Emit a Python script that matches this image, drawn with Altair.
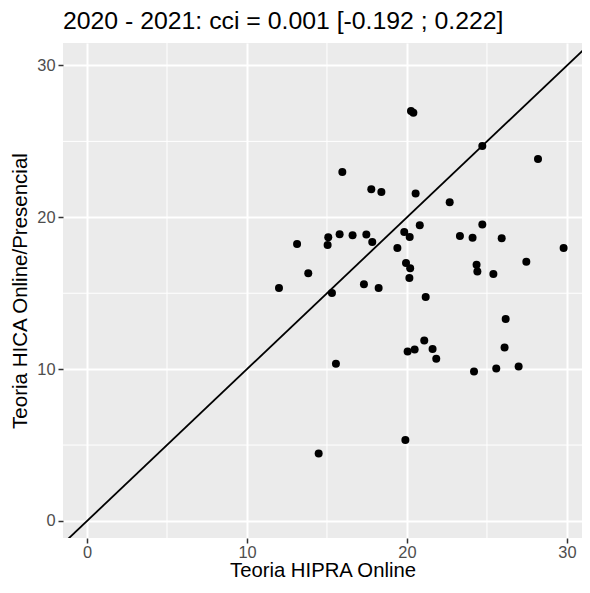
import altair as alt
import pandas as pd

# Scores
hipra = [15.96, 17.77, 18.40, 20.54, 15.79, 16.60, 17.46, 15.08, 17.83, 15.04,
         13.13, 19.83, 20.17, 20.80, 19.40, 19.94, 20.20, 20.15, 13.83, 12.00,
         15.31, 17.31, 18.23, 24.71, 28.19, 22.67, 24.71, 23.31, 24.10, 25.92,
         29.79, 27.46, 24.35, 24.40, 25.40, 21.17, 26.17, 21.08, 20.48, 20.04,
         21.60, 21.83, 26.10, 24.19, 25.58, 26.98, 15.56, 19.90, 14.48, 20.25,
         20.40]
hica = [22.98, 21.84, 21.67, 21.57, 18.88, 18.82, 18.86, 18.68, 18.38, 18.18,
        18.25, 19.04, 18.71, 19.47, 17.98, 16.99, 16.64, 16.01, 16.32, 15.35,
        15.02, 15.59, 15.35, 24.69, 23.84, 20.99, 19.52, 18.77, 18.66, 18.62,
        17.98, 17.08, 16.87, 16.43, 16.27, 14.76, 13.31, 11.89, 11.29, 11.16,
        11.32, 10.68, 11.42, 9.85, 10.04, 10.17, 10.35, 5.33, 4.45, 27.00,
        26.88]

major_ticks = [0, 10, 20, 30]
minor_ticks = [5, 15, 25]
identity_line = [-1.5, 31.5]  # y = x reference line
x_domain = [-1.5, 30.94]
y_domain = [-1.12, 31.48]

title_text = "2020 - 2021: cci = 0.001 [-0.192 ; 0.222]"
x_title = "Teoria HIPRA Online"
y_title = "Teoria HICA Online/Presencial"

pts = pd.DataFrame({"x": hipra, "y": hica})
minor = pd.DataFrame({"v": minor_ticks})
line = pd.DataFrame({"x": identity_line, "y": identity_line})

xs = alt.Scale(domain=x_domain, nice=False, zero=False)
ys = alt.Scale(domain=y_domain, nice=False, zero=False)

FONT = "Liberation Sans"

xaxis = alt.Axis(values=major_ticks, title=x_title, grid=True, gridColor="white",
                 gridWidth=2, tickColor="#333333", tickSize=5, tickWidth=1.5,
                 labelColor="#4D4D4D", labelFontSize=16.4, labelPadding=1,
                 titleFontSize=20.3, titleColor="black", titleFontWeight="normal",
                 titlePadding=0, domain=False, labelFont=FONT, titleFont=FONT)
yaxis = alt.Axis(values=major_ticks, title=y_title, grid=True, gridColor="white",
                 gridWidth=2, tickColor="#333333", tickSize=5, tickWidth=1.5,
                 labelColor="#4D4D4D", labelFontSize=16.4, labelPadding=3,
                 titleFontSize=20.5, titleColor="black", titleFontWeight="normal",
                 titlePadding=6, domain=False, labelFont=FONT, titleFont=FONT)

vminor = alt.Chart(minor).mark_rule(color="white", strokeWidth=1).encode(
    x=alt.X("v:Q", scale=xs, axis=xaxis))
hminor = alt.Chart(minor).mark_rule(color="white", strokeWidth=1).encode(
    y=alt.Y("v:Q", scale=ys, axis=yaxis))

diag = alt.Chart(line).mark_line(color="black", strokeWidth=1.8, clip=True).encode(
    x=alt.X("x:Q", scale=xs, axis=xaxis),
    y=alt.Y("y:Q", scale=ys, axis=yaxis))

points = alt.Chart(pts).mark_circle(color="black", opacity=1, size=64).encode(
    x=alt.X("x:Q", scale=xs, axis=xaxis),
    y=alt.Y("y:Q", scale=ys, axis=yaxis))

chart = alt.layer(vminor, hminor, diag, points).properties(
    width=519, height=495,
    title=alt.TitleParams(title_text, anchor="start", frame="group", fontSize=24.8,
                          font=FONT, fontWeight="normal", color="black", offset=9),
    autosize=alt.AutoSizeParams(type="none"),
    padding={"left": 55, "top": 35, "right": 0, "bottom": 42},
).configure(background="white").configure_view(fill="#EBEBEB", stroke=None)

chart.save("out.html", embed_options={"renderer": "svg", "actions": False})
